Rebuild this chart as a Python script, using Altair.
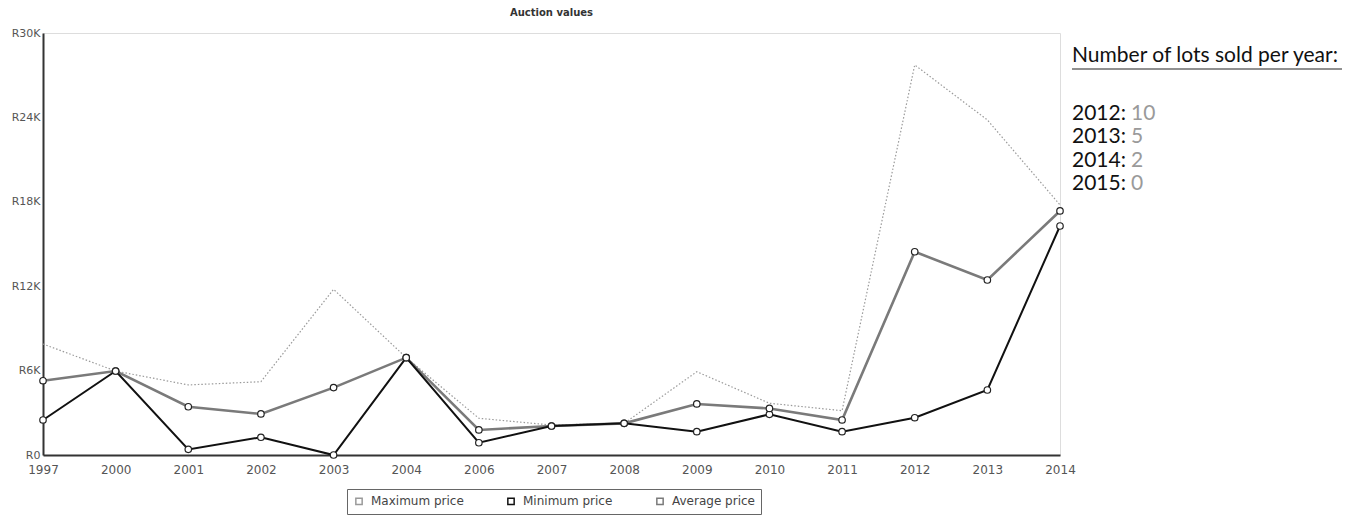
import altair as alt
import pandas as pd

# Auction results per year (Rand)
years = ["1997", "2000", "2001", "2002", "2003", "2004", "2006", "2007",
         "2008", "2009", "2010", "2011", "2012", "2013", "2014"]
max_price = [7890, 5970, 4980, 5210, 11780, 6920, 2610, 2130,
             2250, 5920, 3680, 3150, 27730, 23820, 17780]
min_price = [2490, 5970, 400, 1260, 0, 6920, 870, 2060,
             2250, 1660, 2890, 1660, 2650, 4620, 16280]
avg_price = [5280, 5970, 3430, 2920, 4790, 6920, 1780, 2060,
             2250, 3630, 3310, 2490, 14450, 12440, 17350]

series_names = ["Maximum price", "Minimum price", "Average price"]
y_ticks = [0, 6000, 12000, 18000, 24000, 30000]

# Lots sold per year, listed beside the chart
lot_years = [2012, 2013, 2014, 2015]
lots_sold = [10, 5, 2, 0]

rows = []
for name, vals in zip(series_names, [max_price, min_price, avg_price]):
    for yr, v in zip(years, vals):
        rows.append({"year": yr, "series": name, "price": v})
df = pd.DataFrame(rows)

W, H = 1017, 422
AXIS_FONT = "DejaVu Sans"

x_enc = alt.X(
    "year:O", sort=years,
    scale=alt.Scale(type="point", padding=0),
    axis=alt.Axis(title=None, labelAngle=0, ticks=False, labelPadding=9,
                  labelFont=AXIS_FONT, labelFontSize=12, labelColor="#555",
                  domainColor="#333", domainWidth=2, grid=False),
)
y_enc = alt.Y(
    "price:Q",
    scale=alt.Scale(domain=[0, 30000], nice=False, zero=True),
    axis=alt.Axis(title=None, values=y_ticks, ticks=False, grid=False,
                  labelExpr="datum.value == 0 ? 'R0' : 'R' + datum.value / 1000 + 'K'",
                  labelPadding=3, labelFont=AXIS_FONT, labelFontSize=11,
                  labelColor="#555", domainColor="#333", domainWidth=2),
)

color_enc = alt.Color(
    "series:N",
    scale=alt.Scale(domain=series_names, range=["#9a9a9a", "#111111", "#7a7a7a"]),
    legend=alt.Legend(
        title=None, orient="none", legendX=304, legendY=456,
        direction="horizontal", columnPadding=40, padding=6,
        strokeColor="#666", symbolType="square", symbolSize=40,
        symbolStrokeWidth=1.5, labelOffset=6,
        labelFont=AXIS_FONT, labelFontSize=12, labelColor="#444",
    ),
)

base = alt.Chart(df)

max_line = base.transform_filter(alt.datum.series == "Maximum price").mark_line(
    strokeWidth=1.2, strokeDash=[1.5, 2]
).encode(x=x_enc, y=y_enc, color=color_enc)

avg_line = base.transform_filter(alt.datum.series == "Average price").mark_line(
    strokeWidth=2.6
).encode(x=x_enc, y=y_enc, color=color_enc)

min_line = base.transform_filter(alt.datum.series == "Minimum price").mark_line(
    strokeWidth=2
).encode(x=x_enc, y=y_enc, color=color_enc)

markers = base.transform_filter(alt.datum.series != "Maximum price").mark_point(
    shape="circle", filled=True, fill="white", stroke="#222222",
    strokeWidth=1.2, size=42, opacity=1
).encode(x=x_enc, y=y_enc)

# Side panel: lots sold per year
lots_df = pd.DataFrame({
    "label": ["\n".join(f"{y}:" for y in lot_years)],
    "count": ["\n".join(str(n) for n in lots_sold)],
    "header": ["Number of lots sold per year:"],
})
side = alt.Chart(lots_df)

header = side.mark_text(
    align="left", baseline="alphabetic", font="Lato", fontSize=21, color="#111"
).encode(x=alt.value(1029), y=alt.value(29), text="header:N")

underline = side.mark_rule(color="#222", strokeWidth=1.2).encode(
    x=alt.value(1029), x2=alt.value(1299), y=alt.value(36)
)

lot_labels = side.mark_text(
    align="left", baseline="alphabetic", font="Lato", fontSize=21,
    color="#111", lineBreak="\n", lineHeight=23.3
).encode(x=alt.value(1029), y=alt.value(87), text="label:N")

lot_counts = side.mark_text(
    align="left", baseline="alphabetic", font="Lato", fontSize=21,
    color="#9a9a9a", lineBreak="\n", lineHeight=23.3
).encode(x=alt.value(1088), y=alt.value(87), text="count:N")

chart = alt.layer(
    max_line, avg_line, min_line, markers,
    header, underline, lot_labels, lot_counts,
).properties(
    width=W, height=H,
    title=alt.Title("Auction values", font=AXIS_FONT, fontSize=10,
                    fontWeight="bold", color="#333", anchor="middle",
                    frame="group", offset=9),
    autosize=alt.AutoSizeParams(type="none"),
    padding={"left": 43, "top": 33, "right": 300, "bottom": 62},
).configure_view(
    stroke="#444", strokeWidth=1.5
).configure(background="white")

chart.save("out.html", embed_options={"renderer": "svg", "actions": False})
